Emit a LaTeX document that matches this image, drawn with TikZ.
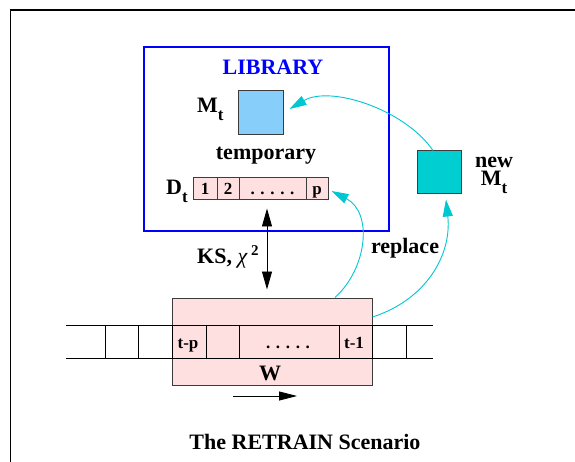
\documentclass[tikz,border=0pt]{standalone}
\usepackage{fontspec}
\setmainfont{Liberation Serif}
\usetikzlibrary{arrows.meta,calc}
\definecolor{libblue}{RGB}{0,0,255}
\definecolor{mtblue}{RGB}{135,206,250}
\definecolor{newcyan}{RGB}{0,206,209}
\definecolor{flowcyan}{RGB}{0,200,210}
\definecolor{pinkfill}{RGB}{255,224,224}
\definecolor{edgegrey}{RGB}{60,60,60}
\newcommand\bigfont{\fontsize{22}{22}\selectfont\bfseries}
\newcommand\smallfont{\fontsize{17}{17}\selectfont\bfseries}
\newcommand\subt{\raisebox{-8pt}{\fontsize{17}{17}\selectfont t}}
\tikzset{
  box/.style={draw=edgegrey, line width=1pt, inner sep=0pt},
  cell/.style={box, fill=pinkfill, minimum height=22pt, font=\smallfont,
    text height=12pt, text depth=0pt},
  lbl/.style={font=\bigfont, inner sep=0pt, anchor=base},
  slbl/.style={font=\smallfont, inner sep=0pt, anchor=base},
  flow/.style={draw=flowcyan, line width=0.9pt,
    -{Triangle[length=17pt,width=10pt,fill=flowcyan]}},
  blackhead/.style={line width=0.9pt},
  tape/.style={line width=0.9pt},
}
\begin{document}
\begin{tikzpicture}[x=1pt,y=-1pt]
\useasboundingbox (0,0) rectangle (575,462);
\fill[white] (0,0) rectangle (575,462);

% outer frame
\draw[line width=1.2pt] (10.5,462) -- (10.5,10) -- (575,10);

% library
\node[draw=libblue, line width=1.2pt, minimum width=245pt, minimum height=184pt,
  inner sep=0pt] (lib) at (266.5,139) {};
\node[lbl, text=libblue] (libtitle) at (273,75) {LIBRARY};
\node[box, fill=mtblue, minimum width=45pt, minimum height=44pt] (Mt) at (260.5,113) {};
\node[lbl, anchor=base west] (mtlbl) at (197,113) {M\subt};
\node[lbl] (temp) at (266,160) {temporary};

% temporary data D_t
\node[cell, minimum width=24pt] (d1) at (205,189) {1};
\node[cell, minimum width=22pt] (d2) at (228,189) {2};
\node[cell, minimum width=67pt] (d3) at (272.5,189) {. . . . .};
\node[cell, minimum width=22pt] (dp) at (317,189) {p};
\node[lbl, anchor=base west] (dtlbl) at (166,195) {D\subt};

% new model
\node[box, fill=newcyan, minimum width=44pt, minimum height=43pt] (newMt) at (439,172.5) {};
\node[font=\fontsize{22}{18}\selectfont\bfseries, align=center, inner sep=0pt,
  anchor=north] (newlbl) at (494,157) {new\\M\subt};

% window over the stream
\node[box, fill=pinkfill, minimum width=200pt, minimum height=87pt] (W) at (272,341.5) {};
\draw[tape] (66,325) -- (433,325) (66,358) -- (433,358);
\foreach \xx in {105,138,172,206,239,339,372,406}
  \draw[tape] (\xx,325) -- (\xx,358);
\node[slbl] (tp) at (188,348) {t-p};
\node[slbl] (tdots) at (288,348) {. . . . .};
\node[slbl] (t1) at (354,348) {t-1};
\node[lbl] (wlbl) at (270,380) {W};

% sliding direction
\coordinate (dirA) at (233,396);
\coordinate (dirB) at (297,396);
\draw[blackhead, -{Triangle[length=18pt,width=9pt]}] (dirA) -- (dirB);

% test between window and library
\draw[blackhead, {Triangle[length=18pt,width=10pt]}-{Triangle[length=18pt,width=10pt]},
  shorten <=8pt, shorten >=8pt]
  ([xshift=-5.5pt]d3.south) -- ([xshift=-5pt]W.north);
\node[lbl, anchor=base west] (kslbl) at (197,263)
  {KS, {\mdseries\itshape χ}\hspace{4pt}\raisebox{8pt}{\fontsize{15}{15}\selectfont 2}};

% replacement flows
\draw[flow] ($(newMt.north)+(-6,0)$) .. controls +(-28,-41) and +(41,-24) .. ($(Mt.east)+(6,-4)$);
\draw[flow] ($(W.north)+(63,0)$) .. controls +(33,-30) and +(41,21) .. ($(dp.east)+(3,2)$);
\draw[flow] ($(W.east)+(0,-24.5)$) .. controls +(53,-17) and +(6,56) .. ($(newMt.south)+(7,5)$);
\node[lbl] (repl) at (405,254) {replace};

% caption
\node[lbl] (title) at (305,449) {The RETRAIN Scenario};
\end{tikzpicture}
\end{document}
